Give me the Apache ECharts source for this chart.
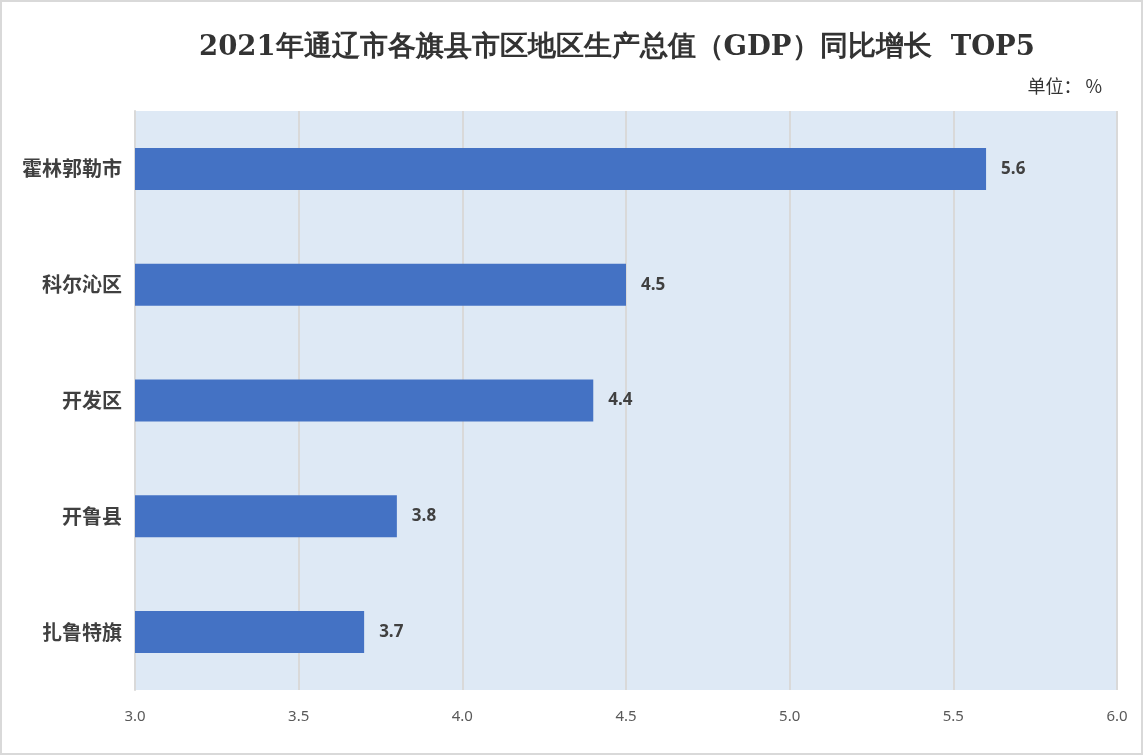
<!DOCTYPE html>
<html><head><meta charset="utf-8">
<script src="https://cdn.jsdelivr.net/npm/echarts@6/dist/echarts.min.js"></script>
<style>html,body{margin:0;padding:0;background:#fff}#c{width:1143px;height:755px}</style>
</head><body><div id="c"></div>
<script>
var categories = ['霍林郭勒市','科尔沁区','开发区','开鲁县','扎鲁特旗'];
var values = [5.6, 4.5, 4.4, 3.8, 3.7];
var chart = echarts.init(document.getElementById('c'));
chart.setOption({
  animation:false,
  backgroundColor:'#fff',
  title:{text:'2021年通辽市各旗县市区地区生产总值（GDP）同比增长  TOP5',left:194,top:29,
    textStyle:{fontFamily:'"DejaVu Serif","Liberation Serif",serif',fontWeight:'bold',fontSize:27.5,color:'#333'}},
  graphic:[
    {type:'rect',shape:{x:1,y:1,width:1141,height:753},style:{fill:'none',stroke:'#d9d9d9',lineWidth:2},silent:true},
    {type:'text',right:41,top:77,style:{text:'单位： %',font:'18px "Noto Sans CJK SC", serif',fill:'#333'}}
  ],
  grid:{left:135,right:26,top:111,bottom:65,show:true,backgroundColor:'#dee9f5',borderWidth:0},
  xAxis:{type:'value',min:3,max:6,interval:0.5,
    axisLine:{show:false},axisTick:{show:false},
    axisLabel:{formatter:function(v){return v.toFixed(1);},color:'#595959',fontSize:15,margin:19,fontFamily:'"Noto Sans","Open Sans",sans-serif'},
    splitLine:{show:true,lineStyle:{color:'#d9d9d9',width:2}}},
  yAxis:{type:'category',data:categories,inverse:true,
    axisLine:{show:true,lineStyle:{color:'#d9d9d9',width:2}},axisTick:{show:false},
    axisLabel:{color:'#404040',fontSize:20,fontWeight:'bold',margin:13,fontFamily:'"Noto Sans CJK SC",sans-serif'}},
  series:[{type:'bar',data:values,barWidth:42,itemStyle:{color:'#4472c4'},
    label:{show:true,position:'right',distance:15,color:'#404040',fontWeight:'bold',fontSize:17,
      fontFamily:'"Open Sans","Noto Sans",sans-serif',formatter:function(p){return p.value.toFixed(1);}}}]
});
</script></body></html>
